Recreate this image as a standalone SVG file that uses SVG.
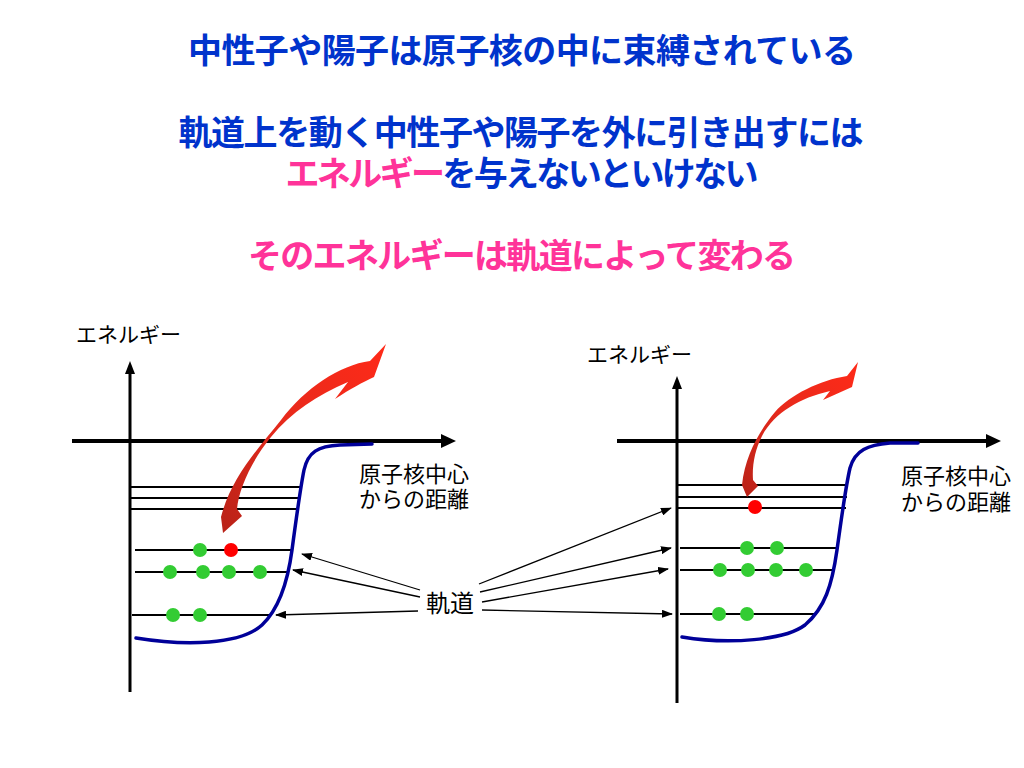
<svg xmlns="http://www.w3.org/2000/svg" width="1024" height="768" viewBox="0 0 1024 768">
<style>
.title{font-family:"Liberation Sans","Noto Sans CJK JP",sans-serif;font-weight:bold;font-size:34px;text-anchor:middle}
.blue{fill:#0033CC}
.pink{fill:#FF3399}
.lbl{font-family:"Liberation Sans","Noto Sans CJK JP",sans-serif;font-size:21px;fill:#000}
.axis{stroke:#000;stroke-width:3;fill:none}
.haxis{stroke:#000;stroke-width:4;fill:none}
.orb{stroke:#000;stroke-width:2;fill:none}
.well{stroke:#000099;stroke-width:3.5;fill:none;stroke-linecap:round}
.g{fill:#33CC33}
.r{fill:#FF0000}
.ptr{stroke:#000;stroke-width:1.3;fill:none}
</style>
<defs>
<marker id="ah" markerWidth="11" markerHeight="8" refX="10" refY="4" orient="auto" markerUnits="userSpaceOnUse">
<path d="M0,0 L11,4 L0,8 Z" fill="#000"/>
</marker>
<linearGradient id="redg" x1="0" y1="1" x2="1" y2="0">
<stop offset="0" stop-color="#B82218"/>
<stop offset="0.5" stop-color="#E82A1C"/>
<stop offset="1" stop-color="#FF2A18"/>
</linearGradient>
</defs>
<rect width="1024" height="768" fill="#fff"/>

<g id="titles">
<text class="title blue" x="522" y="63" textLength="668" lengthAdjust="spacing">中性子や陽子は原子核の中に束縛されている</text>
<text class="title blue" x="521" y="145" textLength="685" lengthAdjust="spacing">軌道上を動く中性子や陽子を外に引き出すには</text>
<text class="title" x="522" y="186" textLength="473" lengthAdjust="spacing"><tspan class="pink">エネルギー</tspan><tspan class="blue">を与えないといけない</tspan></text>
<text class="title pink" x="522" y="268" textLength="548" lengthAdjust="spacing">そのエネルギーは軌道によって変わる</text>
</g>

<g id="left-diagram">
<text class="lbl" x="76" y="342">エネルギー</text>
<line class="axis" x1="130" y1="692" x2="130" y2="372"/>
<path d="M130,361 L125,374 L135,374 Z" fill="#000"/>
<line class="haxis" x1="72" y1="441" x2="442" y2="441"/>
<path d="M456,441 L441,434 L441,448 Z" fill="#000"/>
<text class="lbl" x="359" y="482" style="font-size:22px">原子核中心</text>
<text class="lbl" x="359" y="507" style="font-size:22px">からの距離</text>
<line class="orb" x1="131" y1="487" x2="302" y2="487"/>
<line class="orb" x1="131" y1="498" x2="300" y2="498"/>
<line class="orb" x1="131" y1="509" x2="298" y2="509"/>
<line class="orb" x1="135" y1="550" x2="293" y2="550"/>
<line class="orb" x1="135" y1="572" x2="289" y2="572"/>
<line class="orb" x1="132" y1="615" x2="270" y2="615"/>
<path class="well" d="M136,638 C185,646 240,645 262,625 C280,608 288,580 292,550 C296,520 300,490 304,470 C308,452 318,446 340,445 L372,444"/>
<circle class="g" cx="200" cy="550" r="7"/>
<circle class="r" cx="231" cy="550" r="7"/>
<circle class="g" cx="170" cy="572" r="7"/>
<circle class="g" cx="203" cy="572" r="7"/>
<circle class="g" cx="229" cy="572" r="7"/>
<circle class="g" cx="260" cy="572" r="7"/>
<circle class="g" cx="173" cy="615" r="7"/>
<circle class="g" cx="200" cy="615" r="7"/>
<path fill="url(#redg)" d="M223,533 L242,516 L237,509 C239,488 252,460 271,437 C291,412 318,395 348,382 L335,399 C350,389 363,382 374,377 L386,344 L370,361 C340,365 305,388 281,420 C257,450 231,478 221,517 Z"/>
</g>

<g id="right-diagram">
<text class="lbl" x="587" y="362">エネルギー</text>
<line class="axis" x1="677" y1="703" x2="677" y2="388"/>
<path d="M677,376 L672,389 L682,389 Z" fill="#000"/>
<line class="haxis" x1="617" y1="441" x2="987" y2="441"/>
<path d="M1001,441 L986,434 L986,448 Z" fill="#000"/>
<text class="lbl" x="901" y="484" style="font-size:22px">原子核中心</text>
<text class="lbl" x="901" y="510" style="font-size:22px">からの距離</text>
<line class="orb" x1="678" y1="485" x2="848" y2="485"/>
<line class="orb" x1="678" y1="497" x2="847" y2="497"/>
<line class="orb" x1="678" y1="508" x2="846" y2="508"/>
<line class="orb" x1="680" y1="548" x2="838" y2="548"/>
<line class="orb" x1="680" y1="570" x2="835" y2="570"/>
<line class="orb" x1="680" y1="614" x2="817" y2="614"/>
<path class="well" d="M682,637 C730,645 785,640 805,625 C825,608 832,585 837,550 C842,515 845,490 850,468 C855,450 868,445 890,443 L918,443"/>
<circle class="r" cx="755" cy="507" r="7"/>
<circle class="g" cx="747" cy="548" r="7"/>
<circle class="g" cx="777" cy="548" r="7"/>
<circle class="g" cx="720" cy="570" r="7"/>
<circle class="g" cx="748" cy="570" r="7"/>
<circle class="g" cx="776" cy="570" r="7"/>
<circle class="g" cx="806" cy="570" r="7"/>
<circle class="g" cx="719" cy="614" r="7"/>
<circle class="g" cx="747" cy="614" r="7"/>
<path fill="url(#redg)" d="M747,497 L758,486 L753,480 C752,465 755,450 762,436 C775,412 800,398 830,391 L823,400 L852,387 L858,362 L847,376 C820,380 790,395 775,412 C760,430 745,455 742,485 Z"/>
</g>

<g id="orbit-label">
<text class="lbl" x="426" y="612" style="font-size:24px">軌道</text>
</g>

<g id="connectors">
<line class="ptr" x1="420" y1="590" x2="302" y2="554" marker-end="url(#ah)"/>
<line class="ptr" x1="420" y1="597" x2="293" y2="570" marker-end="url(#ah)"/>
<line class="ptr" x1="418" y1="611" x2="276" y2="615" marker-end="url(#ah)"/>
<line class="ptr" x1="479" y1="584" x2="671" y2="508" marker-end="url(#ah)"/>
<line class="ptr" x1="480" y1="592" x2="671" y2="548" marker-end="url(#ah)"/>
<line class="ptr" x1="482" y1="602" x2="668" y2="569" marker-end="url(#ah)"/>
<line class="ptr" x1="482" y1="610" x2="672" y2="614" marker-end="url(#ah)"/>
</g>
</svg>
